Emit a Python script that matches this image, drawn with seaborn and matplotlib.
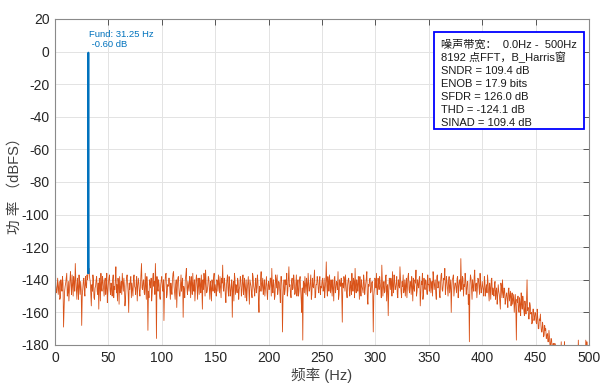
import numpy as np
import pandas as pd
import matplotlib
matplotlib.use("Agg")
import matplotlib.pyplot as plt
from matplotlib.patches import Rectangle
import seaborn as sns

# ---- spectrum data (dBFS) ----
fs_half = 500.0  # Hz, Nyquist

# noise floor on whole-Hz bins, 0 .. 500 Hz
noise_db = [
    -140, -146, -143, -149, -141, -151, -145, -138, -169, -147, -142, -136, -148, -153, -140, -144, -137, -150, -142, -130, -146, -139, -152, -144, -141,
    -168, -145, -139, -150, -143, -137, -135, -133, -141, -156, -147, -140, -152, -144, -138, -149, -158, -143, -136, -147, -141, -150, -139, -145, -154,
    -142, -137, -149, -145, -140, -151, -146, -132, -143, -139, -155, -148, -141, -136, -147, -144, -152, -139, -143, -160, -146, -138, -142, -150, -137,
    -145, -141, -153, -139, -147, -143, -130, -146, -140, -149, -144, -138, -171, -151, -142, -139, -148, -136, -141, -130, -176, -145, -140, -150, -143,
    -138, -147, -165, -141, -136, -149, -144, -139, -152, -146, -140, -135, -148, -143, -157, -139, -145, -150, -137, -142, -163, -146, -140, -133, -149,
    -144, -138, -151, -142, -136, -147, -153, -140, -145, -139, -149, -143, -137, -158, -146, -141, -134, -148, -144, -139, -152, -145, -140, -147, -136,
    -143, -150, -141, -137, -148, -145, -139, -131, -147, -142, -154, -140, -146, -138, -150, -143, -163, -141, -136, -149, -145, -139, -152, -144, -140,
    -147, -137, -143, -151, -140, -146, -138, -155, -142, -148, -136, -144, -150, -139, -145, -141, -160, -147, -135, -143, -149, -140, -146, -138, -152,
    -141, -145, -139, -133, -148, -143, -150, -140, -137, -146, -142, -154, -138, -172, -144, -149, -140, -136, -147, -132, -143, -151, -139, -145, -141,
    -148, -137, -144, -150, -140, -146, -160, -177, -142, -138, -149, -143, -136, -147, -141, -152, -139, -145, -134, -150, -143, -140, -148, -138, -144,
    -141, -147, -139, -145, -129, -150, -142, -137, -148, -144, -140, -153, -138, -146, -142, -135, -149, -143, -139, -166, -145, -140, -137, -148, -143,
    -139, -150, -144, -136, -147, -141, -133, -148, -143, -138, -152, -145, -140, -146, -137, -149, -142, -135, -155, -144, -139, -147, -141, -172, -146,
    -140, -136, -149, -143, -138, -145, -131, -150, -141, -147, -137, -144, -162, -139, -146, -142, -135, -148, -140, -145, -138, -151, -143, -132, -147,
    -141, -137, -146, -150, -139, -144, -136, -148, -142, -138, -153, -145, -140, -134, -147, -143, -139, -156, -141, -136, -149, -144, -140, -146, -137,
    -143, -139, -148, -141, -135, -146, -140, -152, -137, -144, -149, -142, -136, -147, -139, -133, -145, -141, -150, -138, -144, -160, -140, -137, -146,
    -142, -148, -138, -144, -140, -127, -146, -139, -143, -136, -149, -141, -155, -178, -137, -145, -140, -147, -134, -143, -151, -139, -145, -136, -148,
    -141, -146, -138, -150, -143, -137, -148, -142, -152, -139, -145, -150, -141, -147, -155, -143, -149, -158, -144, -140, -151, -146, -153, -148, -157,
    -145, -150, -156, -148, -152, -160, -149, -177, -154, -158, -151, -162, -155, -150, -159, -153, -161, -140, -157, -164, -156, -160, -166, -158, -163,
    -161, -167, -163, -170, -165, -168, -172, -169, -174, -171, -176, -173, -178, -175, -180, -177, -182, -185, -179, -187, -184, -186, -190, -181, -178,
    -183, -188, -178, -185, -192, -186, -189, -195, -187, -191, -188, -193, -190, -186, -194, -177, -189, -192, -188, -187, -190, -186, -177, -178, -189, -183,
]

# noise floor on the half-Hz bins in between, 0.5 .. 499.5 Hz
noise_mid_db = [
    -143, -148, -139, -145, -152, -140, -147, -142, -158, -144, -139, -150, -141, -146, -135, -149, -143, -138, -147, -140, -152, -144, -137, -149, -146,
    -150, -141, -147, -138, -145, -140, -134, -139, -148, -143, -137, -151, -145, -140, -147, -142, -139, -153, -144, -138, -146, -141, -149, -136, -147,
    -139, -146, -142, -150, -137, -144, -140, -148, -153, -143, -138, -145, -149, -141, -139, -156, -144, -137, -148, -142, -140, -151, -146, -139, -144,
    -149, -138, -144, -142, -150, -137, -145, -141, -148, -136, -152, -143, -147, -140, -145, -153, -139, -144, -149, -142, -138, -147, -143, -152, -140,
    -145, -140, -148, -137, -151, -143, -139, -146, -142, -149, -136, -144, -152, -140, -145, -138, -150, -143, -147, -139, -144, -151, -137, -145, -141,
    -147, -141, -138, -149, -144, -140, -146, -137, -152, -143, -139, -148, -145, -140, -136, -150, -142, -147, -138, -145, -141, -153, -143, -139, -148,
    -146, -140, -147, -143, -138, -151, -142, -145, -139, -149, -144, -137, -150, -142, -147, -140, -145, -153, -139, -143, -148, -141, -146, -138, -150,
    -141, -149, -139, -145, -153, -142, -147, -140, -144, -151, -138, -146, -142, -148, -137, -152, -144, -140, -147, -139, -145, -150, -142, -148, -143,
    -146, -139, -150, -144, -140, -152, -137, -145, -149, -141, -147, -138, -144, -151, -140, -146, -143, -150, -139, -144, -148, -141, -146, -137, -149,
    -143, -150, -140, -147, -138, -152, -145, -141, -148, -144, -139, -150, -142, -146, -137, -149, -144, -140, -151, -143, -138, -146, -141, -149, -145,
    -139, -146, -151, -141, -144, -138, -147, -143, -140, -150, -145, -139, -148, -141, -146, -152, -140, -144, -149, -142, -138, -147, -143, -151, -140,
    -146, -141, -149, -143, -139, -151, -145, -140, -147, -142, -138, -150, -144, -148, -141, -145, -139, -152, -143, -140, -148, -142, -146, -150, -139,
    -145, -149, -139, -146, -142, -151, -140, -144, -148, -138, -153, -143, -147, -141, -139, -150, -144, -137, -146, -142, -149, -140, -145, -139, -151,
    -144, -148, -140, -143, -151, -138, -146, -141, -149, -144, -139, -147, -142, -150, -140, -145, -138, -148, -143, -152, -139, -146, -141, -149, -143,
    -147, -141, -144, -150, -139, -143, -148, -138, -145, -141, -151, -137, -146, -143, -140, -149, -138, -145, -142, -148, -140, -146, -139, -150, -142,
    -145, -139, -151, -141, -147, -143, -138, -150, -144, -140, -146, -141, -149, -143, -139, -152, -144, -138, -147, -142, -145, -140, -149, -143, -146,
    -144, -150, -141, -146, -148, -142, -153, -145, -140, -149, -147, -143, -152, -145, -150, -147, -154, -142, -151, -148, -145, -155, -149, -152, -146,
    -153, -147, -151, -155, -149, -154, -158, -152, -150, -160, -155, -148, -158, -153, -162, -156, -152, -159, -164, -154, -161, -167, -158, -165, -160,
    -166, -158, -170, -164, -161, -172, -166, -175, -168, -170, -174, -178, -171, -181, -176, -183, -179, -186, -180, -188, -183, -191, -185, -187, -193,
    -186, -190, -184, -191, -188, -194, -189, -187, -192, -190, -196, -188, -191, -189, -193, -187, -190, -194, -188, -186, -191, -189, -192, -185, -190,
]

# DC bins
dc_hz = [0.0, 0.12, 0.24, 0.37]
dc_db = [-50, -95, -130, -145]

# fundamental bins around 31.25 Hz
fund_hz = [30.88, 31.00, 31.13, 31.25, 31.37, 31.49, 31.62]
fund_db = [-136, -95, -30, -0.60, -30, -95, -136]

summary_lines = [
    "噪声带宽：  0.0Hz -  500Hz",
    "8192 点FFT，B_Harris窗",
    "SNDR = 109.4 dB",
    "ENOB = 17.9 bits",
    "SFDR = 126.0 dB",
    "THD = -124.1 dB",
    "SINAD = 109.4 dB",
]

x_ticks = [0, 50, 100, 150, 200, 250, 300, 350, 400, 450, 500]
y_ticks = [20, 0, -20, -40, -60, -80, -100, -120, -140, -160, -180]

# ---- style ----
sns.set_theme(style="white")
plt.rcParams["font.family"] = ["Liberation Sans", "Noto Sans CJK SC", "DejaVu Sans"]
plt.rcParams["axes.unicode_minus"] = False

whole_hz = np.linspace(0, fs_half, len(noise_db))
mid_hz = whole_hz[:-1] + 0.5
noise_df = pd.DataFrame({
    "freq": np.concatenate([whole_hz, mid_hz]),
    "db": noise_db + noise_mid_db,
}).sort_values("freq")
fund_df = pd.DataFrame({"freq": fund_hz, "db": fund_db})
dc_df = pd.DataFrame({"freq": dc_hz, "db": dc_db})

fig = plt.figure(figsize=(6.03, 3.85), dpi=100)
ax = fig.add_axes([55 / 603, 1 - 345 / 385, 534 / 603, 326 / 385])

sns.lineplot(data=noise_df, x="freq", y="db", ax=ax, color="#D95319", lw=0.6,
             estimator=None, sort=False)
sns.lineplot(data=dc_df, x="freq", y="db", ax=ax, color="#1a1a1a", lw=1.0,
             estimator=None, sort=False)
sns.lineplot(data=fund_df, x="freq", y="db", ax=ax, color="#0072BD", lw=1.3,
             estimator=None, sort=False)

ax.set_xlim(0, 500)
ax.set_ylim(-180, 20)
ax.set_xticks(x_ticks)
ax.set_yticks(y_ticks)
ax.grid(True, color="#e3e3e3", lw=0.7)
ax.set_axisbelow(True)
for s in ax.spines.values():
    s.set_color("#8a8a8a")
    s.set_linewidth(0.8)
ax.tick_params(direction="in", length=4, width=0.7, color="#555555",
               top=True, right=True, labelsize=10, labelcolor="#262626", pad=4)

ax.set_xlabel("频率 (Hz)", fontsize=10.5, color="#404040", labelpad=2)
ax.set_ylabel("功 率 （dBFS）", fontsize=10.5, color="#404040")
ax.yaxis.set_label_coords(-0.062, 0.5)

# fundamental marker text
ax.text(32.3, 13.0, "Fund: 31.25 Hz\n -0.60 dB", color="#0072BD", fontsize=6.8,
        va="top", ha="left", linespacing=1.05)

# summary box
ax.add_patch(Rectangle((0.710, 0.664), 0.280, 0.297, transform=ax.transAxes,
                       facecolor="white", edgecolor="#0000FF", lw=1.3, zorder=5))
y0 = 0.911
for i, line in enumerate(summary_lines):
    ax.text(0.722, y0 - i * 0.0399, line, transform=ax.transAxes, fontsize=8,
            va="baseline", ha="left", color="#1a1a1a", zorder=6)

fig.savefig("out.png", dpi=100)
